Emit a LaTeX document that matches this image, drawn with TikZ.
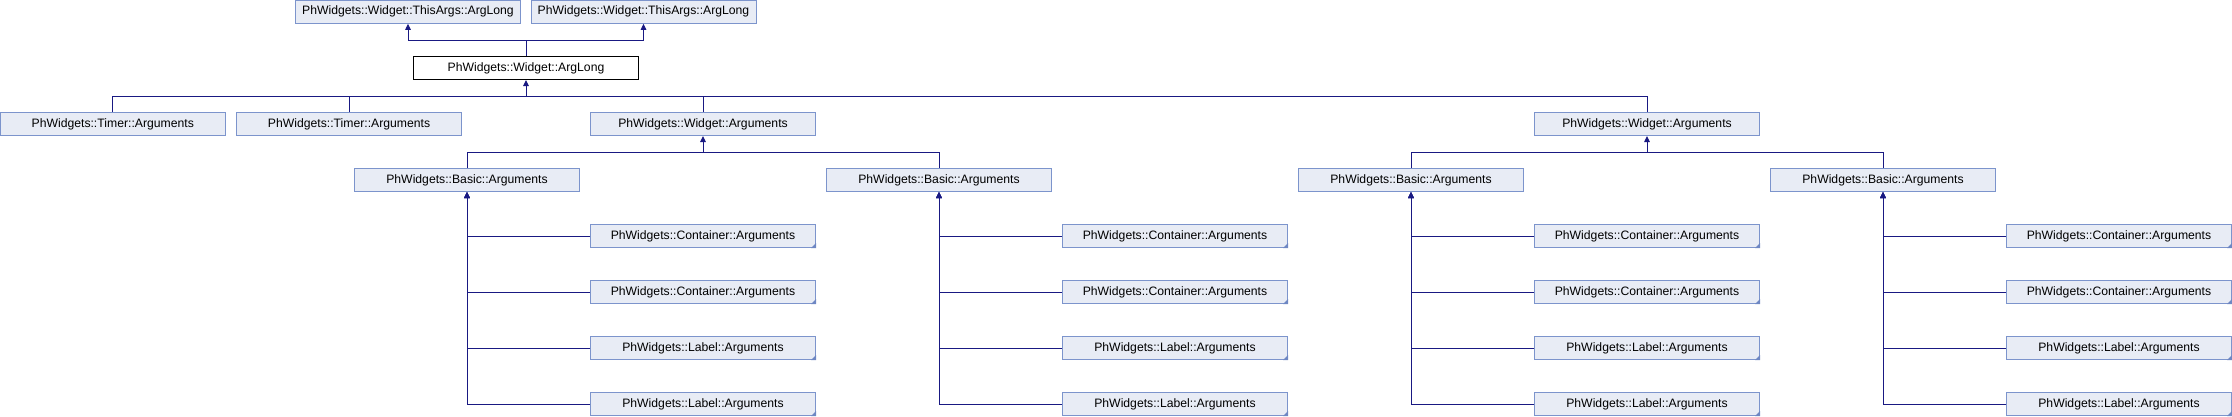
\documentclass[tikz,border=0pt]{standalone}
\usepackage{fontspec}
\setmainfont{Liberation Sans}
\usetikzlibrary{arrows.meta}
\definecolor{boxfill}{RGB}{232,236,245}
\definecolor{boxdraw}{RGB}{124,148,204}
\definecolor{edgecol}{RGB}{25,25,130}
\definecolor{markcol}{RGB}{110,135,195}
\tikzset{
  cls/.style={rectangle, draw=boxdraw, fill=boxfill, line width=1pt, minimum width=225pt, minimum height=23pt, inner sep=0pt, font=\fontsize{12.2}{14}\selectfont, text=black},
  mainbox/.style={cls, draw=black, fill=white},
  link/.style={draw=edgecol, line width=1pt},
  edge/.style={link, -{Triangle[length=6pt,width=5.5pt]}},
  trunc/.style={fill=markcol}
}
\newcommand{\truncmark}[1]{\fill[trunc] (#1.south east) -- ++(-5,0) -- ++(5,-5) -- cycle;}
\begin{document}
\begin{tikzpicture}[x=1pt,y=-1pt]
\useasboundingbox (0,0) rectangle (2232,416);
% top row
\node[cls] (TA1) at (408,11.8) {PhWidgets::Widget::ThisArgs::ArgLong};
\node[cls] (TA2) at (643.5,11.8) {PhWidgets::Widget::ThisArgs::ArgLong};
\node[mainbox] (AL) at (526,68) {PhWidgets::Widget::ArgLong};
% second row
\node[cls] (T1) at (112.75,124) {PhWidgets::Timer::Arguments};
\node[cls] (T2) at (349,124) {PhWidgets::Timer::Arguments};
\node[cls] (W1) at (703,124) {PhWidgets::Widget::Arguments};
\node[cls] (W2) at (1647,124) {PhWidgets::Widget::Arguments};
% basic row
\node[cls] (B1) at (467,180) {PhWidgets::Basic::Arguments};
\node[cls] (B2) at (939,180) {PhWidgets::Basic::Arguments};
\node[cls] (B3) at (1411,180) {PhWidgets::Basic::Arguments};
\node[cls] (B4) at (1883,180) {PhWidgets::Basic::Arguments};
% leaves
\foreach \b/\x in {1/703,2/1175,3/1647,4/2119}{
  \node[cls] (C\b a) at (\x,236) {PhWidgets::Container::Arguments};
  \node[cls] (C\b b) at (\x,292) {PhWidgets::Container::Arguments};
  \node[cls] (L\b a) at (\x,348) {PhWidgets::Label::Arguments};
  \node[cls] (L\b b) at (\x,404) {PhWidgets::Label::Arguments};
  \truncmark{C\b a}
  \truncmark{C\b b}
  \truncmark{L\b a}
  \truncmark{L\b b}
}
% junctions
\coordinate (j0) at (526,40.7);
\coordinate (j1) at (526,96.3);
\coordinate (j2) at (703,152.3);
\coordinate (j3) at (1647,152.3);
% edges to ThisArgs
\draw[link] (AL.north) -- (j0);
\draw[edge] (j0) -| (TA1.south);
\draw[edge] (j0) -| (TA2.south);
% edges to ArgLong
\draw[link] (T1.north) |- (j1);
\draw[link] (T2.north) |- (j1);
\draw[link] (W1.north) |- (j1);
\draw[link] (W2.north) |- (j1);
\draw[edge] (j1) -- (AL.south);
% edges to Widget::Arguments
\draw[link] (B1.north) |- (j2) -| (B2.north);
\draw[edge] (j2) -- (W1.south);
\draw[link] (B3.north) |- (j3) -| (B4.north);
\draw[edge] (j3) -- (W2.south);
% edges to Basic
\foreach \b in {1,2,3,4}{
  \draw[edge] (L\b b.west) -| (B\b.south);
  \draw[edge] (L\b a.west) -| (B\b.south);
  \draw[edge] (C\b b.west) -| (B\b.south);
  \draw[edge] (C\b a.west) -| (B\b.south);
}
\end{tikzpicture}
\end{document}
